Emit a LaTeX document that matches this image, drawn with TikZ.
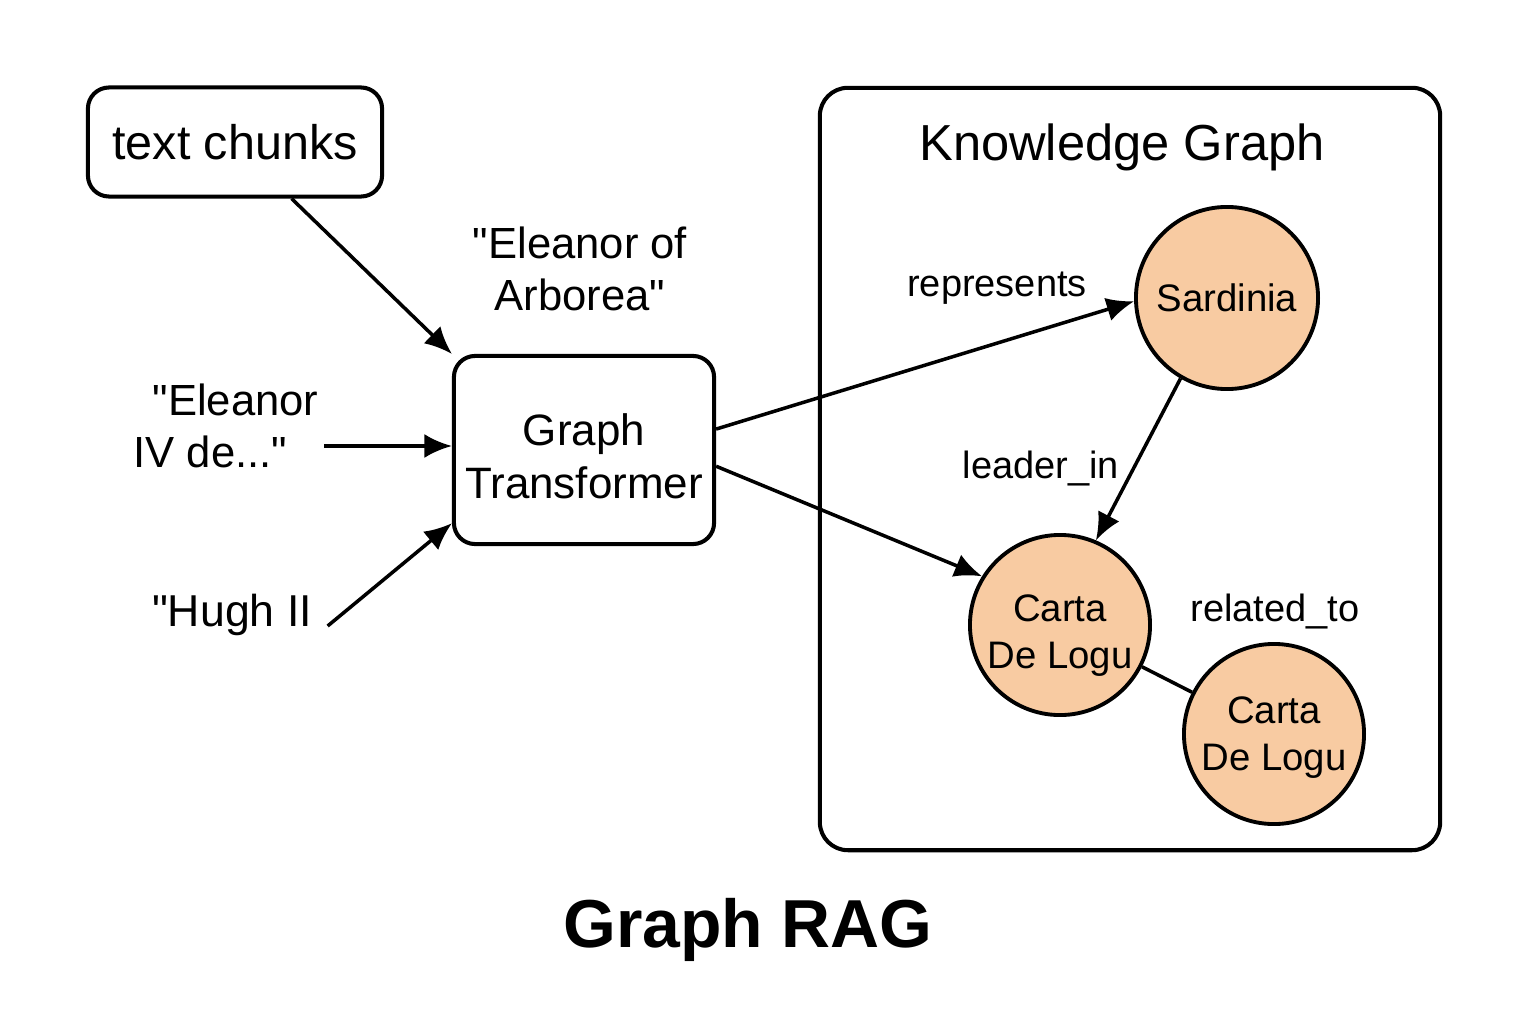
\documentclass[tikz,border=0pt]{standalone}
\usepackage{fontspec}
\setmainfont{Liberation Sans}
\usepackage{xcolor}
\usepackage{tikz}
\usetikzlibrary{arrows.meta}
\definecolor{entityfill}{HTML}{F8CBA2}
\newcommand{\fs}[2]{\fontsize{#1}{#2}\selectfont}
\newcommand{\qq}{\textquotedbl}

\tikzset{
  box/.style={draw, line width=1.15pt, rounded corners=6pt, align=center, inner sep=0pt},
  entity/.style={circle, draw, line width=1.1pt, fill=entityfill, align=center, inner sep=0pt, minimum size=1.82cm, font=\fs{10.9}{13.2}},
  link/.style={line width=1pt, -{Latex[length=7.8pt,width=6.8pt]}},
  lbl/.style={align=center, inner sep=0pt},
}

\begin{document}
\begin{tikzpicture}[x=0.01cm,y=-0.01cm]
%%\draw[step=100,color=gray!50,dotted] (0,0) grid (1536,1024);
\useasboundingbox (0,0) rectangle (1536,1024);

% knowledge graph frame
\node[box, rounded corners=8pt, minimum width=6.2cm, minimum height=7.62cm] (kg) at (1130,469) {};
\node[lbl, font=\fs{14.4}{17}] (kgtitle) at (1122,147) {Knowledge Graph};

% left side
\node[box, minimum width=2.94cm, minimum height=1.09cm, font=\fs{13.8}{16.5}] (chunks) at (235,142) {text chunks};
\node[box, minimum width=2.6cm, minimum height=1.88cm, font=\fs{12.5}{15}] (gt) at (584,450) {\rule{0pt}{0.44cm}Graph\\Transformer};
\node[lbl, font=\fs{12.4}{14.9}] (arborea) at (580,269) {\qq Eleanor of\\Arborea\qq};
\node[lbl, align=left, anchor=west, inner sep=0.05cm, font=\fs{12.4}{14.9}] (eleanor) at (128,426) {\hspace*{0.19cm}\qq Eleanor\\IV de...\qq};
\node[lbl, anchor=base, inner xsep=0.15cm, font=\fs{12.7}{15}] (hugh) at (232,626) {\qq Hugh II};

% entities
\node[entity] (sard) at (1227,298) {Sardinia};
\node[entity, minimum size=1.8cm] (carta) at (1060,625) {\rule{0pt}{0.48cm}Carta\\De Logu};
\node[entity, minimum size=1.8cm] (carta2) at (1274,734) {\rule{0pt}{0.34cm}Carta\\De Logu};

% relation labels
\node[lbl, font=\fs{10.8}{13}] (represents) at (997,288) {represents};
\node[lbl, font=\fs{10.8}{13}] (leader) at (1041,469) {leader\_in};
\node[lbl, font=\fs{10.8}{13}] (related) at (1275,612) {related\_to};

\node[lbl, font=\bfseries\fs{19.3}{23}, anchor=base] (title) at (748,947) {Graph RAG};

% connectors
\draw[link] (chunks.-45) -- (gt.north west);
\draw[link] ([yshift=0.04cm]eleanor.east |- gt.west) -- ([yshift=0.04cm]gt.west);
\draw[link] (hugh.base east) -- (gt.209);
\draw[link] (gt.9) -- (sard.182);
\draw[link] (gt.-7) -- (carta.148);
\draw[link] (sard.240) -- (carta.67);
\draw[line width=1pt] (carta) -- (carta2);
\end{tikzpicture}
\end{document}
